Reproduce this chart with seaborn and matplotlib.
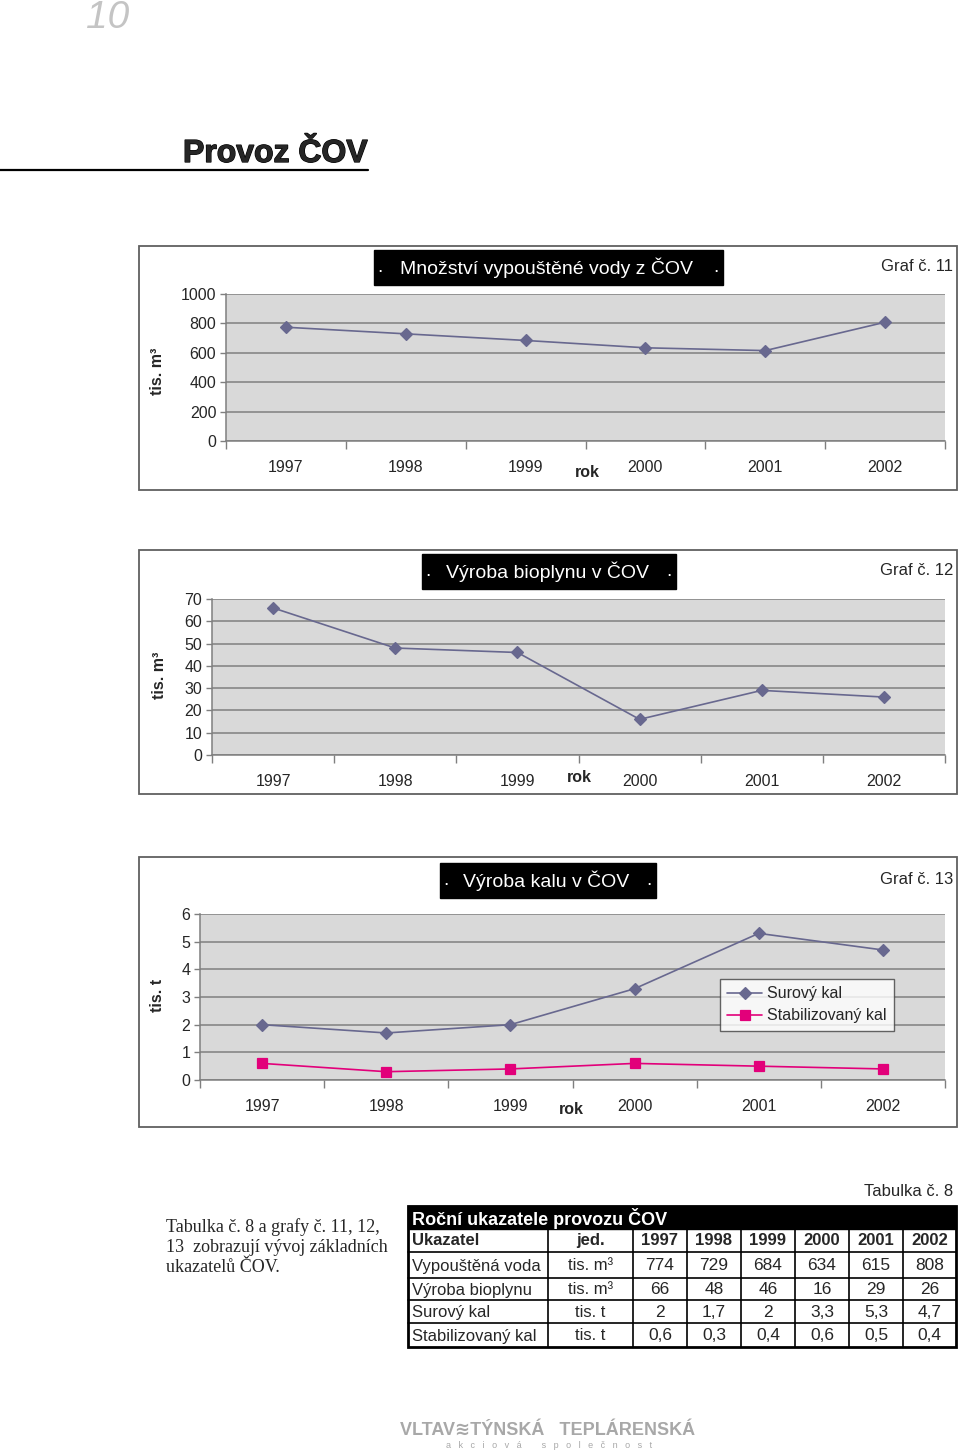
import numpy as np
import pandas as pd
import seaborn as sns
import matplotlib.pyplot as plt
import matplotlib.patheffects as pe
from matplotlib.patches import Rectangle
from matplotlib.ticker import FixedLocator

years = ['1997', '1998', '1999', '2000', '2001', '2002']
voda = [774, 729, 684, 634, 615, 808]
bioplyn = [66, 48, 46, 16, 29, 26]
surovy_kal = [2, 1.7, 2, 3.3, 5.3, 4.7]
stab_kal = [0.6, 0.3, 0.4, 0.6, 0.5, 0.4]

tab_rows = ['Vypouštěná voda', 'Výroba bioplynu', 'Surový kal', 'Stabilizovaný kal']
tab_units = ['tis. m³', 'tis. m³', 'tis. t', 'tis. t']
tab_values = [voda, bioplyn, surovy_kal, stab_kal]

LINE = '#68688f'
PINK = '#e2007a'
PLOT_BG = '#d9d9d9'
GRID = '#7f7f7f'

sns.set_style('white')
plt.rcParams['font.family'] = ['Liberation Sans', 'DejaVu Sans']

W, H = 960, 1452
fig = plt.figure(figsize=(W / 100, H / 100), dpi=100)


def rect(x0, y0, x1, y1):
    return [x0 / W, 1 - y1 / H, (x1 - x0) / W, (y1 - y0) / H]


def fx(x):
    return x / W


def fy(y):
    return 1 - y / H


def box(x0, y0, x1, y1, **kw):
    fig.add_artist(Rectangle((fx(x0), fy(y1)), (x1 - x0) / W, (y1 - y0) / H,
                             transform=fig.transFigure, **kw))


def decorate(frame, title_box, title, graf, ylabel, ylab_x, rok_xy):
    x0, y0, x1, y1 = frame
    box(x0, y0, x1, y1, facecolor='none', edgecolor='#606060', lw=1.3)
    bx0, by0, bx1, by1 = title_box
    box(bx0, by0, bx1, by1, facecolor='black', edgecolor='black')
    ty = (by0 + by1) / 2
    fig.text(fx(bx0 + 6), fy(ty), '.', color='white', fontsize=14, ha='center', va='center')
    fig.text(fx(bx1 - 7), fy(ty), '.', color='white', fontsize=14, ha='center', va='center')
    fig.text(fx((bx0 + bx1) / 2 - 2), fy(ty), title, color='white', fontsize=14,
             ha='center', va='center')
    fig.text(fx(953), fy(ty - 1), graf, fontsize=12, ha='right', va='center')
    fig.text(fx(ylab_x), fy((y0 + y1) / 2 + 3), ylabel, fontsize=11.5, fontweight='bold',
             rotation=90, ha='center', va='center')
    fig.text(fx(rok_xy[0]), fy(rok_xy[1]), 'rok', fontsize=11.5, fontweight='bold',
             ha='center', va='center')


def style_axes(ax, ymax, step):
    ax.set_facecolor(PLOT_BG)
    for s in ['top', 'right']:
        ax.spines[s].set_visible(False)
    for s in ['left', 'bottom']:
        ax.spines[s].set_color(GRID)
        ax.spines[s].set_linewidth(1.1)
    ax.set_xlim(-0.5, len(years) - 0.5)
    ax.set_ylim(0, ymax)
    ax.set_yticks(np.arange(0, ymax + step / 2, step))
    ax.yaxis.grid(True, color=GRID, lw=1.1)
    ax.xaxis.grid(False)
    ax.set_axisbelow(True)
    ax.tick_params(axis='y', length=4, width=1, color=GRID, labelsize=11.5, pad=3, left=True)
    ax.tick_params(axis='x', which='major', length=0, pad=13.5, labelsize=11.5)
    ax.xaxis.set_minor_locator(FixedLocator(np.arange(-0.5, len(years), 1)))
    ax.tick_params(axis='x', which='minor', length=6, width=1, color=GRID, bottom=True)
    ax.set_xlabel('')
    ax.set_ylabel('')


# ---- header ----
fig.text(fx(108), fy(18), '10', fontsize=28, style='italic', color='#c4c4c4',
         ha='center', va='center')
fig.text(fx(183), fy(154), 'Provoz ČOV', fontsize=23, fontweight='bold', ha='left', va='center',
         path_effects=[pe.withStroke(linewidth=0.9, foreground='black')])
fig.add_artist(plt.Line2D([0, fx(368)], [fy(170), fy(170)], color='black', lw=1.6,
                          transform=fig.transFigure))

# ---- Graf 11 ----
df1 = pd.DataFrame({'rok': years, 'hodnota': voda})
ax1 = fig.add_axes(rect(226, 294, 945, 441))
sns.pointplot(data=df1, x='rok', y='hodnota', color=LINE, markers='D', markersize=6.5,
              linewidth=1.2, errorbar=None, ax=ax1)
style_axes(ax1, 1000, 200)
decorate((139, 246, 957, 490), (374, 250, 723, 285), 'Množství vypouštěné vody z ČOV',
         'Graf č. 11', 'tis. m³', 158, (587, 473))

# ---- Graf 12 ----
df2 = pd.DataFrame({'rok': years, 'hodnota': bioplyn})
ax2 = fig.add_axes(rect(212, 599, 945, 755))
sns.pointplot(data=df2, x='rok', y='hodnota', color=LINE, markers='D', markersize=6.5,
              linewidth=1.2, errorbar=None, ax=ax2)
style_axes(ax2, 70, 10)
decorate((139, 550, 957, 794), (422, 554, 676, 589), 'Výroba bioplynu v ČOV',
         'Graf č. 12', 'tis. m³', 160, (579, 778))

# ---- Graf 13 ----
df3 = pd.DataFrame({'rok': years * 2,
                    'hodnota': surovy_kal + stab_kal,
                    'serie': ['Surový kal'] * 6 + ['Stabilizovaný kal'] * 6})
ax3 = fig.add_axes(rect(200, 914, 945, 1080))
sns.pointplot(data=df3, x='rok', y='hodnota', hue='serie',
              palette={'Surový kal': LINE, 'Stabilizovaný kal': PINK},
              markers=['D', 's'], linestyles=['-', '-'], markersize=6.5,
              linewidth=1.2, errorbar=None, ax=ax3)
style_axes(ax3, 6, 1)
leg = ax3.legend(loc='upper left', bbox_to_anchor=(fx(720), fy(979)),
                 bbox_transform=fig.transFigure, frameon=True, fancybox=False,
                 fontsize=11.5, title=None, borderpad=0.45, handlelength=2.2,
                 handletextpad=0.3, labelspacing=0.45, borderaxespad=0)
leg.get_frame().set_edgecolor('#404040')
leg.get_frame().set_linewidth(1.0)
leg.get_frame().set_facecolor('white')
decorate((139, 857, 957, 1127), (440, 863, 656, 898), 'Výroba kalu v ČOV',
         'Graf č. 13', 'tis. t', 158, (571, 1110))

# ---- text beside table ----
para = ['Tabulka č. 8 a grafy č. 11, 12,', '13  zobrazují vývoj základních', 'ukazatelů ČOV.']
for i, line in enumerate(para):
    fig.text(fx(166), fy(1227 + i * 20.5), line, fontsize=13, family='Liberation Serif',
             ha='left', va='center')

# ---- table ----
fig.text(fx(953), fy(1192), 'Tabulka č. 8', fontsize=12, ha='right', va='center')
tx = [408, 548, 633, 687, 741, 795, 849, 903, 956]
ty = [1206, 1229, 1252, 1278, 1300, 1323, 1347]
box(tx[0], ty[0], tx[-1], ty[1], facecolor='black', edgecolor='black')
fig.text(fx(412), fy((ty[0] + ty[1]) / 2 + 1), 'Roční ukazatele provozu ČOV', color='white',
         fontsize=13, fontweight='bold', ha='left', va='center')
for y in ty[2:-1]:
    fig.add_artist(plt.Line2D([fx(tx[0]), fx(tx[-1])], [fy(y), fy(y)], color='black', lw=1.2,
                              transform=fig.transFigure))
for x in tx[1:-1]:
    fig.add_artist(plt.Line2D([fx(x), fx(x)], [fy(ty[1]), fy(ty[-1])], color='black', lw=1.2,
                              transform=fig.transFigure))
box(tx[0], ty[0], tx[-1], ty[-1], facecolor='none', edgecolor='black', lw=2)

header = ['Ukazatel', 'jed.'] + years
for j, h in enumerate(header):
    cy = fy((ty[1] + ty[2]) / 2)
    if j == 0:
        fig.text(fx(tx[0] + 4), cy, h, fontsize=12, fontweight='bold', ha='left', va='center')
    else:
        fig.text(fx((tx[j] + tx[j + 1]) / 2), cy, h, fontsize=12, fontweight='bold',
                 ha='center', va='center')
for i, name in enumerate(tab_rows):
    cy = fy((ty[i + 2] + ty[i + 3]) / 2 + 1)
    fig.text(fx(tx[0] + 4), cy, name, fontsize=12, ha='left', va='center')
    fig.text(fx((tx[1] + tx[2]) / 2), cy, tab_units[i], fontsize=12, ha='center', va='center')
    for j, v in enumerate(tab_values[i]):
        fig.text(fx((tx[j + 2] + tx[j + 3]) / 2), cy, f'{v:g}'.replace('.', ','),
                 fontsize=12.5, ha='center', va='center')

# ---- footer ----
fig.text(fx(548), fy(1430), 'VLTAV≋TÝNSKÁ   TEPLÁRENSKÁ', fontsize=13, fontweight='bold',
         color='#a8a8a8', ha='center', va='center', family=['Liberation Sans', 'DejaVu Sans'])
fig.text(fx(549), fy(1446), 'a   k   c   i   o   v   á        s   p   o   l   e   č   n   o   s   t',
         fontsize=6.5, color='#a8a8a8', ha='center', va='center')

fig.savefig('out.png', dpi=100, facecolor='white')
